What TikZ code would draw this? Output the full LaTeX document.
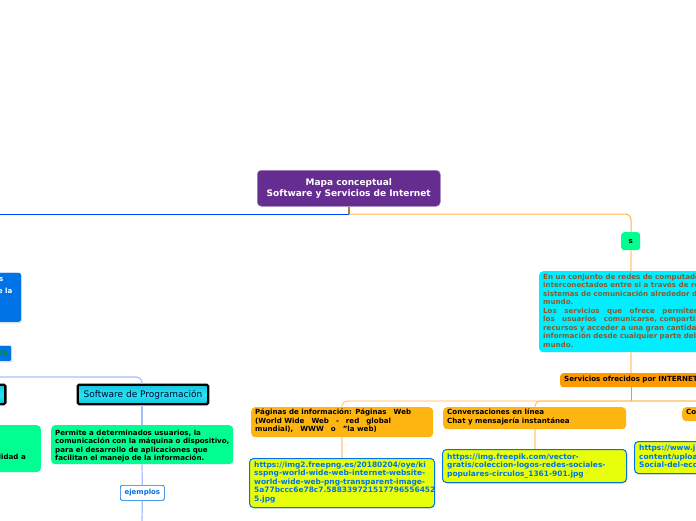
\documentclass[tikz,border=0pt]{standalone}
\usepackage{fontspec}
\setmainfont{DejaVu Sans}
\usetikzlibrary{shadows}
\definecolor{cpurple}{HTML}{652D90}
\definecolor{cblue}{HTML}{0073E6}
\definecolor{cgreen}{HTML}{00FF90}
\definecolor{ccyan}{HTML}{00EEFF}
\definecolor{corange}{HTML}{FF9900}
\definecolor{camber}{HTML}{FFB511}
\definecolor{cyell}{HTML}{E8FF0C}
\definecolor{lineO}{HTML}{FFB347}
\definecolor{lineP}{HTML}{FFD9A8}
\definecolor{lineB}{HTML}{A6BFFF}
\definecolor{cbrown}{HTML}{8A5A2B}
\definecolor{cprogA}{HTML}{18C4DC}
\definecolor{cprogB}{HTML}{22E6F2}
\tikzset{
 x=1pt,y=-1pt,
 txt/.style={anchor=north west,inner sep=0pt,align=left,font=\fontsize{7.1}{8.5}\selectfont\bfseries},
 lnO/.style={draw=lineO,line width=1pt,rounded corners=6pt},
 lnT/.style={draw=lineO,line width=.7pt,rounded corners=5pt},
 lnP/.style={draw=lineP,line width=1.3pt},
 lnB/.style={draw=lineB,line width=1.2pt,rounded corners=6pt},
 softshadow/.style={drop shadow={shadow xshift=0.5pt,shadow yshift=-1pt,fill=black!30}},
 plain/.style={anchor=north west,inner sep=0pt,rounded corners=4pt},
 ybox/.style={plain,draw=cblue,line width=1pt,fill=cyell,softshadow},
 urlt/.style={txt,text=cblue,font=\fontsize{7.45}{8.5}\selectfont\bfseries},
 progbox/.style={draw=black,line width=2.4pt,top color=cprogA,bottom color=cprogA,middle color=cprogB,rounded corners=1.5pt,inner sep=0pt,minimum height=19.5pt}
}
\begin{document}
\begin{tikzpicture}
\useasboundingbox (0,0) rectangle (696,520);
\clip (0,0) rectangle (696,520);
\coordinate (rootdown) at (349,214);
\coordinate (leftedge) at (-2,214);
\coordinate (bus1) at (-2,377);
\coordinate (pbus) at (142,377);
\coordinate (bottom) at (142,522);
\coordinate (sbusR) at (700,401);
\coordinate (sx) at (631,214);
\coordinate (sbus) at (631,401);
\coordinate (pagx) at (342,401);
\coordinate (convx) at (535,401);

% boxes
\node[plain,draw=cpurple!60,fill=cpurple,minimum width=183pt,minimum height=36pt,line width=.5pt] (root) at (257,170) {};
\node[plain,fill=cgreen,rounded corners=3pt,minimum width=19pt,minimum height=18pt] (s) at (621,232) {};
\node[plain,fill=ccyan,minimum width=170pt,minimum height=81pt] (def) at (539,271) {};
\node[plain,fill=corange,rounded corners=3pt,minimum width=150pt,minimum height=14pt] (serv) at (560,373) {};
\node[plain,fill=camber,minimum width=182pt,minimum height=30pt] (pag) at (251,407) {};
\node[plain,fill=camber,minimum width=183pt,minimum height=22pt] (conv) at (443,407) {};
\node[plain,fill=camber,minimum width=40pt,minimum height=14pt] (com) at (682,407) {};
\node[ybox,minimum width=185pt,minimum height=49pt] (u1) at (249,458) {};
\node[ybox,minimum width=184pt,minimum height=33pt] (u2) at (442,449) {};
\node[ybox,minimum width=100pt,minimum height=32pt] (u3) at (634,441) {};
\node[draw=white,line width=.6pt,fill=cblue,rounded corners=3pt,minimum width=62pt,minimum height=50pt,anchor=north east,inner sep=0pt,softshadow] (lb1) at (22,272) {};
\node[draw=white,line width=.6pt,fill=cblue,rounded corners=2pt,minimum width=42pt,minimum height=16pt,anchor=north east,inner sep=0pt,softshadow] (lb2) at (12,345) {};
\node[progbox,minimum width=130.5pt,anchor=north west] (prog) at (76.5,383.5) {};
\node[progbox,minimum width=47pt,anchor=north east] (other) at (6.5,383.5) {};
\node[plain,fill=cgreen,minimum width=182pt,minimum height=39pt] (pdesc) at (51,425) {};
\node[fill=cgreen,rounded corners=4pt,minimum width=90pt,minimum height=47pt,anchor=north east,inner sep=0pt] (odesc) at (41,425) {};
\node[plain,draw=cblue,line width=.7pt,fill=white,rounded corners=2pt,minimum width=44pt,minimum height=15pt,drop shadow={shadow xshift=.4pt,shadow yshift=-.8pt,fill=black!30}] (ej) at (120,485) {};

% connectors
\draw[draw=blue!75!cyan,line width=1pt] (rootdown) -- (leftedge);
\draw[lnO] (rootdown) -- (sx) -- (s.north -| sx);
\draw[draw=cbrown!60!lineO,line width=1.4pt] (root.south -| rootdown) -- (rootdown);
\draw[lnP] (s.south -| sx) -- (def.north -| sx);
\draw[lnP] (def.south -| sx) -- (serv.north -| sx);
\draw[draw=corange,line width=1pt] (serv.south -| sx) -- (sbus);
\draw[lnT] (pag.north -| pagx) -- (pagx) -- (sbusR);
\draw[lnT] (conv.north -| convx) -- (convx) -- (sbusR);
\draw[lnP] (pag.south -| pagx) -- (u1.north -| pagx);
\draw[lnP] (conv.south -| convx) -- (u2.north -| convx);
\draw[lnB] (bus1) -- (pbus) -- (prog.north -| pbus);
\draw[lnB] (prog.south -| pbus) -- (pdesc.north -| pbus);
\draw[lnB] (pdesc.south -| pbus) -- (ej.north);
\draw[lnB] (ej.south) -- (bottom);

% texts
\node[align=center,text=white,inner sep=0pt,font=\fontsize{9}{11}\selectfont\bfseries] (roott) at (root.center) {Mapa conceptual\\Software y Servicios de Internet};
\node[inner sep=0pt,font=\fontsize{7.1}{9}\selectfont\bfseries] (st) at (s.center) {s};
\node[txt,text=cbrown] (deft) at (543,273.5) {En un conjunto de redes de computadores\\interconectados entre si a través de red\\sistemas de comunicación alrededor del\\mundo.\\Los\hspace{7.5pt}servicios\hspace{7.5pt}que\hspace{7.5pt}ofrece\hspace{7.5pt}permiten\\los\hspace{7.5pt}usuarios\hspace{7.5pt}comunicarse, compartir\\recursos y acceder a una gran cantidad\\información desde cualquier parte del\\mundo.};
\node[txt] (servt) at (564,376) {Servicios ofrecidos por INTERNET};
\node[txt] (pagt) at (255,409) {Páginas de información: Páginas\hspace{7pt}Web\\(World Wide\hspace{7pt}Web\hspace{7pt}-\hspace{7pt}red\hspace{7pt}global\\mundial),\hspace{7pt}WWW\hspace{7pt}o\hspace{7pt}"la web)};
\node[txt] (convt) at (447,409) {Conversaciones en línea\\Chat y mensajería instantánea};
\node[txt] (comt) at (686,409.5) {Co};
\node[urlt] (u1t) at (254,461.5) {https://img2.freepng.es/20180204/oye/ki\\sspng-world-wide-web-internet-website-\\world-wide-web-png-transparent-image-\\5a77bccc6e78c7.588339721517796556452\\5.jpg};
\node[urlt] (u2t) at (447,453.5) {https://img.freepik.com/vector-\\gratis/coleccion-logos-redes-sociales-\\populares-circulos\_1361-901.jpg};
\node[urlt] (u3t) at (639,445) {https://www.j\\content/uploa\\Social-del-eco};
\node[txt,text=white,anchor=north east] (lb1ta) at (3.5,277) {s};
\node[txt,text=white,anchor=north east] (lb1tb) at (12.5,288) {e la};
\node[inner sep=0pt,anchor=east,text=green!60!black,font=\fontsize{8}{9}\selectfont] (lb2t) at (8,353) {re};
\node[inner sep=0pt,font=\fontsize{9}{10}\selectfont,text=black!80!blue] (progt) at (prog.center) {Software de Programación};
\node[txt] (pdesct) at (55,429.5) {Permite a determinados usuarios, la\\comunicación con la máquina o dispositivo,\\para el desarrollo de aplicaciones que\\facilitan el manejo de la información.};
\node[txt,anchor=north east,align=right] (odesct) at (26,454) {lidad a};
\node[inner sep=0pt,text=cblue,font=\fontsize{7}{8}\selectfont\bfseries] (ejt) at (ej.center) {ejemplos};
\end{tikzpicture}
\end{document}
